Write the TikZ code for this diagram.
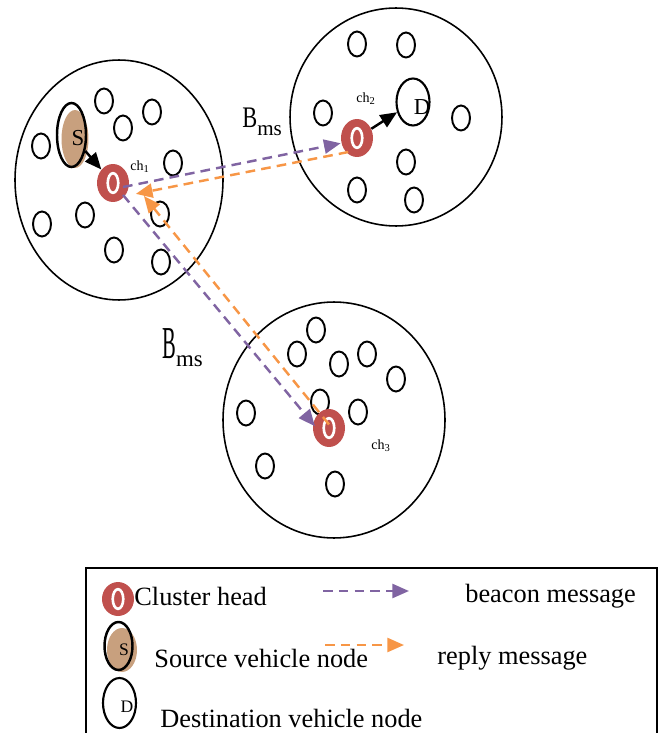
\documentclass[tikz,border=0pt]{standalone}
\usepackage{fontspec}
\setmainfont{Liberation Serif}
\usetikzlibrary{shapes.geometric, arrows.meta}
\definecolor{chred}{HTML}{C0504D}
\definecolor{srcbrown}{HTML}{C8A07E}
\definecolor{beaconc}{HTML}{8064A2}
\definecolor{replyc}{HTML}{F79646}

\begin{document}
\begin{tikzpicture}[x=0.02cm, y=-0.02cm, font=\fontsize{15}{18}\selectfont,
	cluster/.style={ellipse, draw, line width=0.9pt, inner sep=0pt},
	vnode/.style={ellipse, draw, line width=1.1pt, minimum width=0.36cm, minimum height=0.5cm, inner sep=0pt},
	chead/.style={ellipse, fill=chred, minimum width=0.64cm, minimum height=0.76cm, inner sep=0pt,
		path picture={\draw[white, line width=1.5pt] (path picture bounding box.center) ellipse [x radius=3pt, y radius=5.6pt];}},
	srcnode/.style={ellipse, draw, line width=1.4pt, inner sep=0pt},
	srcfill/.style={ellipse, fill=srcbrown, inner sep=0pt},
	dstnode/.style={ellipse, draw, line width=1.2pt, inner sep=0pt},
	sendarr/.style={-{Triangle[length=9.5pt,width=8pt]}, line width=1.4pt},
	beacon/.style={-{Triangle[length=9.5pt,width=8pt]}, dash pattern=on 5.5pt off 3.5pt, line width=1.4pt, beaconc},
	reply/.style={-{Triangle[length=9.5pt,width=8pt]}, dash pattern=on 5.5pt off 3.5pt, line width=1.4pt, replyc},
	chlabel/.style={font=\fontsize{8}{9}\selectfont, inner sep=0pt},
	legtext/.style={anchor=west, inner sep=0pt}]
		\clip (0,0) rectangle (659,733);
		
		% clusters
		\node[cluster, minimum width=4.16cm, minimum height=4.8cm] (cl1) at (119,180) {};
		\node[cluster, minimum width=4.24cm, minimum height=4.36cm] (cl2) at (396,117) {};
		\node[cluster, minimum width=4.44cm, minimum height=4.72cm] (cl3) at (334,420) {};
		
		% vehicles of cluster 1
		\node[vnode] (v11) at (104,101) {};
		\node[vnode] (v12) at (152,112) {};
		\node[vnode] (v13) at (123,128) {};
		\node[vnode] (v14) at (41,146) {};
		\node[vnode] (v15) at (173,163) {};
		\node[vnode] (v16) at (85,215) {};
		\node[vnode] (v17) at (42,224) {};
		\node[vnode] (v18) at (160,214) {};
		\node[vnode] (v19) at (114,250) {};
		\node[vnode] (v110) at (161,262) {};
		\node[srcfill, minimum width=0.54cm, minimum height=1.16cm] (sbg) at (75,139) {};
		\node[srcnode, minimum width=0.58cm, minimum height=1.28cm] (s) at (71.5,135) {};
		\node[font=\fontsize{13}{14}\selectfont, inner sep=0pt] (slbl) at (78,138) {S};
		\node[chead] (ch1) at (113,183) {};
		\node[chlabel] (ch1lbl) at (140,167) {ch\textsubscript{1}};
		
		% vehicles of cluster 2
		\node[vnode] (v21) at (357,44) {};
		\node[vnode] (v22) at (406,45) {};
		\node[vnode] (v23) at (323,113) {};
		\node[vnode] (v24) at (461,118) {};
		\node[vnode] (v25) at (406,162) {};
		\node[vnode] (v26) at (357,190) {};
		\node[vnode] (v27) at (414,200) {};
		\node[dstnode, minimum width=0.66cm, minimum height=0.94cm] (d) at (413,102) {};
		\node[font=\fontsize{13}{14}\selectfont, inner sep=0pt] (dlbl) at (422,107) {D};
		\node[chead] (ch2) at (357,138) {};
		\node[chlabel] (ch2lbl) at (366,99) {ch\textsubscript{2}};
		
		% vehicles of cluster 3
		\node[vnode] (v31) at (316,330) {};
		\node[vnode] (v32) at (297,354) {};
		\node[vnode] (v33) at (339,364) {};
		\node[vnode] (v34) at (367,354) {};
		\node[vnode] (v35) at (396,379) {};
		\node[vnode] (v36) at (246,413) {};
		\node[vnode] (v37) at (320,402) {};
		\node[vnode] (v38) at (358,412) {};
		\node[vnode] (v39) at (265,466) {};
		\node[vnode] (v310) at (335,484) {};
		\node[chead] (ch3) at (329,428) {};
		\node[chlabel] (ch3lbl) at (381,446) {ch\textsubscript{3}};
		
		% B_ms labels
		\node[anchor=base west, inner sep=0pt] (bms1) at (242,128)
			{\scalebox{0.75}[1]{\fontsize{17}{18}\selectfont B}\raisebox{-4pt}{\fontsize{12}{12}\selectfont ms}};
		\node[anchor=base west, inner sep=0pt] (bms2) at (162,358)
			{\scalebox{0.45}[1]{\fontsize{26}{28}\selectfont B}\raisebox{-5pt}{\fontsize{13}{13}\selectfont ms}};
		
		% messages
		\draw[sendarr] (s) -- (ch1);
		\draw[sendarr] (ch2) -- (d);
		\draw[beacon] ([xshift=5.7pt,yshift=-2.3pt]ch1.center) -- ([yshift=-3pt]ch2.west);
		\draw[reply] ([xshift=-5pt,yshift=-8pt]ch2.center) -- ([xshift=13pt,yshift=-6.2pt]ch1.center);
		\draw[beacon] ([xshift=5.7pt,yshift=-6.8pt]ch1.center) -- ([xshift=-8pt,yshift=1pt]ch3.center);
		\draw[reply] ([yshift=2pt]ch3.center) -- ([xshift=17.6pt,yshift=-7.4pt]ch1.center);
		
		% legend
		\draw[line width=0.9pt] (86,568) rectangle (657,760);
		\node[chead, minimum height=0.68cm] (lch) at (118,599) {};
		\node[legtext] (lchtxt) at (134,596) {Cluster head};
		\coordinate (lb1) at (323,591);
		\coordinate (lb2) at (409,591);
		\draw[beacon] (lb1) -- (lb2);
		\node[legtext] (lbtxt) at (465,596) {beacon message};
		
		\node[srcfill, minimum width=0.6cm, minimum height=0.88cm] (lsbg) at (122,650) {};
		\node[srcnode, minimum width=0.56cm, minimum height=0.96cm] (ls) at (118.5,646) {};
		\node[font=\fontsize{10}{11}\selectfont, inner sep=0pt] (lslbl) at (124,650) {S};
		\node[legtext] (lstxt) at (154,658) {Source vehicle node};
		\coordinate (lr1) at (325,645);
		\coordinate (lr2) at (404,645);
		\draw[reply] (lr1) -- (lr2);
		\node[legtext] (lrtxt) at (437,658) {reply message};
		
		\node[dstnode, minimum width=0.66cm, minimum height=1cm] (ld) at (119.5,703) {};
		\node[font=\fontsize{10}{11}\selectfont, inner sep=0pt] (ldlbl) at (127,707) {D};
		\node[legtext] (ldtxt) at (160,718) {Destination vehicle node};
	\end{tikzpicture}
\end{document}
